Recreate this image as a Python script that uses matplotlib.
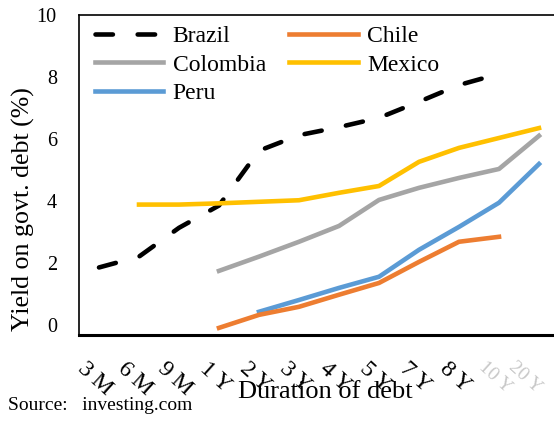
import numpy as np
import matplotlib
matplotlib.use("Agg")
import matplotlib.pyplot as plt
from matplotlib.transforms import ScaledTranslation

categories = ["3 M", "6 M", "9 M", "1 Y", "2 Y", "3 Y", "4 Y", "5 Y", "7 Y", "8 Y", "10 Y", "20 Y"]
nan = np.nan
brazil = [1.85, 2.2, 3.13, 3.85, 5.62, 6.12, 6.38, 6.68, 7.2, 7.74, 8.1, nan]
chile = [nan, nan, nan, -0.1, 0.32, 0.58, 0.97, 1.35, 2.03, 2.68, 2.84, nan]
colombia = [nan, nan, nan, 1.74, 2.2, 2.68, 3.19, 4.03, 4.42, 4.74, 5.03, 6.1]
mexico = [nan, 3.88, 3.88, 3.92, 3.97, 4.02, 4.26, 4.48, 5.26, 5.71, 6.03, 6.35]
peru = [nan, nan, nan, nan, 0.42, 0.8, 1.19, 1.55, 2.42, 3.16, 3.94, 5.19]
yticks = [0, 2, 4, 6, 8, 10]

plt.rcParams['font.family'] = ['Liberation Serif', 'DejaVu Serif']

fig = plt.figure(figsize=(5.54, 4.29), dpi=100)
ax = fig.add_axes([79/554, 94/429, 480/554, 320/429])
x = np.arange(len(categories))

ax.plot(x, brazil, color='black', lw=3.3, dashes=(3.8, 5.4), dash_capstyle='round', label='Brazil')
ax.plot(x, colombia, color='#A5A5A5', lw=3.3, label='Colombia')
ax.plot(x, peru, color='#5B9BD5', lw=3.3, label='Peru')
ax.plot(x, chile, color='#ED7D31', lw=3.3, label='Chile')
ax.plot(x, mexico, color='#FFC000', lw=3.3, label='Mexico')

ax.set_xlim(-0.5, len(categories) - 0.5)
ax.set_ylim(-0.33, 10)
ax.set_yticks(yticks)
ax.set_yticklabels([str(t) for t in yticks], fontsize=14.5)
ax.tick_params(axis='y', length=0, pad=16)
ax.set_xticks(x)
ax.set_xticklabels([])
ax.tick_params(axis='x', length=0)

# category labels drawn as rotated texts below the axis
for i, cat in enumerate(categories):
    faint = i >= 10
    dx = -4
    ha = 'center'
    if i == len(categories) - 1:
        ha = 'right'
        dx = 6
    tr = ax.get_xaxis_transform() + ScaledTranslation(dx/100, -23/100, fig.dpi_scale_trans)
    ax.text(i, 0, cat, transform=tr, rotation=-42, ha=ha, va='top',
            fontsize=14 if faint else 17, color='#c8c8c8' if faint else 'black',
            clip_on=False)

for s in ax.spines.values():
    s.set_linewidth(1.2)
ax.spines['bottom'].set_linewidth(2.2)

ax.set_ylabel('Yield on govt. debt (%)', fontsize=18.6)
ax.yaxis.set_label_coords(-0.092, 0.394)

leg = ax.legend(ncol=2, loc='upper left', fontsize=17, frameon=False,
                handlelength=2.9, handletextpad=0.4, columnspacing=1.0,
                labelspacing=0.3, borderaxespad=0.15, borderpad=0.3,
                bbox_to_anchor=(0.0104, 1.0))

fig.text(325/554, 1 - 392/429, 'Duration of debt', fontsize=19, ha='center', va='center')
fig.text(8/554, 1 - 405/429, 'Source:   investing.com', fontsize=14, ha='left', va='center')

fig.savefig('out.png', dpi=100)
